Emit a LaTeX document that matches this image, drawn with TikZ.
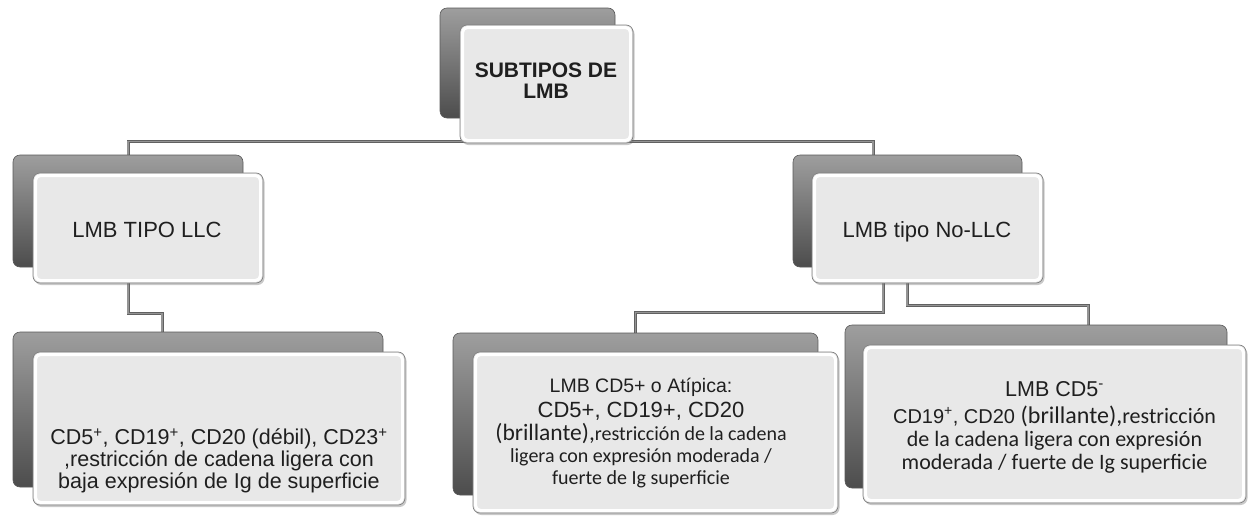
\documentclass[tikz,border=0pt]{standalone}
\usepackage{fontspec}
\setmainfont{Liberation Sans}
\newfontfamily\calfont{Carlito}
\usetikzlibrary{calc,backgrounds,shadows}
\begin{document}
\begin{tikzpicture}[x=1pt,y=-1pt,
  backcard/.style={rectangle, rounded corners=7pt, draw=black!65, top color=black!38, bottom color=black!70, line width=0.6pt, inner sep=0pt},
  frontcard/.style={rectangle, rounded corners=7pt, draw=black!50, fill=black!9, line width=0.7pt, inner sep=0pt,
     drop shadow={shadow xshift=1.5pt, shadow yshift=-2pt, opacity=0.35, fill=black!60},
     path picture={\draw[white, line width=3pt, rounded corners=5pt] ([shift={(2.5pt,-2.5pt)}]path picture bounding box.north west) rectangle ([shift={(-2.5pt,2.5pt)}]path picture bounding box.south east);}},
  conn/.style={draw=black!62, double=black!42, double distance=1.2pt, line width=0.9pt},
  txt/.style={text=black!88, align=center, inner sep=0pt}
]
\useasboundingbox (0,0) rectangle (1250,517);

% cards
\node[backcard, minimum width=175pt, minimum height=110pt] (tback) at (527.5,63) {};
\node[frontcard, minimum width=173pt, minimum height=118pt] (tfront) at (546.5,84) {};

\node[backcard, minimum width=230pt, minimum height=112pt] (lback) at (128,211) {};
\node[frontcard, minimum width=230pt, minimum height=110pt] (lfront) at (148,228) {};

\node[backcard, minimum width=229pt, minimum height=112pt] (nback) at (907.5,211) {};
\node[frontcard, minimum width=231pt, minimum height=110pt] (nfront) at (927.5,228) {};

\node[backcard, minimum width=370pt, minimum height=155pt] (aback) at (198,409.5) {};
\node[frontcard, minimum width=372pt, minimum height=153pt] (afront) at (219,428.5) {};

\node[backcard, minimum width=365pt, minimum height=162pt] (bback) at (635.5,414) {};
\node[frontcard, minimum width=365pt, minimum height=161pt] (bfront) at (655.5,432.5) {};

\node[backcard, minimum width=382pt, minimum height=163pt] (cback) at (1036,406.5) {};
\node[frontcard, minimum width=383pt, minimum height=158pt] (cfront) at (1054.5,424) {};

% texts
\node[txt, font=\bfseries\fontsize{21}{21}\selectfont] (ttext) at (546,80.5) {SUBTIPOS DE\\LMB};
\node[txt, font=\fontsize{22}{24}\selectfont, anchor=base] (ltext) at (147,237) {LMB TIPO LLC};
\node[txt, font=\fontsize{22}{24}\selectfont, anchor=base] (ntext) at (927,237) {LMB tipo No-LLC};

\node[txt, font=\fontsize{21.5}{22}\selectfont] (atext) at (219,461)
  {CD5\textsuperscript{+}, CD19\textsuperscript{+}, CD20 (débil), CD23\textsuperscript{+}\\,restricción de cadena ligera con\\baja expresión de Ig de superficie};

\node[txt, font=\calfont\fontsize{20}{22}\selectfont] (btext) at (641,433)
  {{\rmfamily\fontsize{19.5}{22}\selectfont LMB CD5+ o Atípica:}\\[3pt]{\rmfamily\fontsize{22}{24}\selectfont CD5+, CD19+, CD20}\\[1pt]{\fontsize{23.5}{24}\selectfont(brillante),}restricción de la cadena\\ligera con expresión moderada /\\fuerte de Ig superficie};

\node[txt, font=\calfont\fontsize{22}{23}\selectfont] (ctext) at (1054.5,427)
  {{\rmfamily\fontsize{21.5}{23}\selectfont LMB CD5\textsuperscript{-}}\\[4pt]{\rmfamily\fontsize{20}{23}\selectfont CD19\textsuperscript{+}, CD20 }{\fontsize{24}{24}\selectfont(brillante),}restricción\\de la cadena ligera con expresión\\moderada / fuerte de Ig superficie};

% background and connectors
\begin{pgfonlayer}{background}
\fill[white] (0,0) rectangle (1250,517);
\draw[conn] (lback.north) |- ([yshift=2pt]tfront.south) -| ([xshift=-34.5pt]nback.north);
\draw[conn] ([xshift=-20pt]lfront.south) -- ++(0,30) -| ([xshift=-36pt]aback.north);
\draw[conn] ([xshift=-44.5pt]nfront.south) -- ++(0,29) -| (bback.north);
\draw[conn] ([xshift=-20.5pt]nfront.south) -- ++(0,22) -| ([xshift=52pt]cback.north);
\end{pgfonlayer}
\end{tikzpicture}
\end{document}
